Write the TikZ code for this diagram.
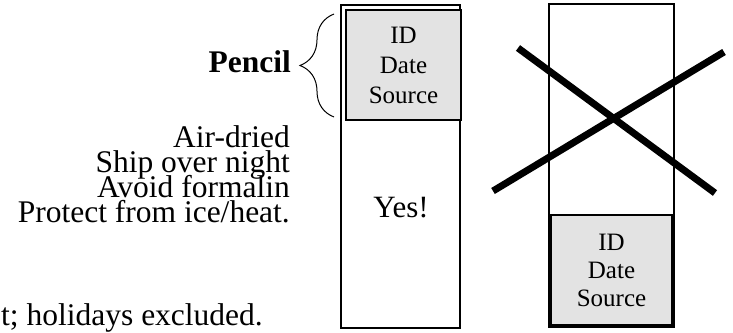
\documentclass[tikz,border=0pt]{standalone}
\usepackage{fontspec}
\setmainfont{Liberation Serif}
\usepackage{tikz}
\usetikzlibrary{decorations.pathreplacing}
\definecolor{labelGray}{RGB}{227, 227, 227}
\tikzset{
  slide/.style={draw, line width=1.4pt},
  slidelabel/.style={draw, line width=1.6pt, fill=labelGray, align=center},
  hint/.style={anchor=base east, font=\fontsize{31.5}{25}\selectfont},
}

\begin{document}
\begin{tikzpicture}[x=1pt, y=-1pt, every node/.style={inner sep=0pt}]
  \useasboundingbox (0,0) rectangle (733,332);

  % good slide: label on top
  \draw[slide] (341,5) rectangle (460,328);
  \node[slidelabel, font=\fontsize{25}{30}\selectfont, minimum width=115pt, minimum height=110pt] (goodlabel) at (403.5,65) {ID\\Date\\Source};
  \node[font=\fontsize{31}{31}\selectfont, anchor=base] (yes) at (401,217) {Yes!};

  % bad slide: label at the bottom
  \draw[slide] (549,4) rectangle (674,327);
  \node[slidelabel, font=\fontsize{25}{28}\selectfont, minimum width=121pt, minimum height=110pt] (badlabel) at (611.5,270) {ID\\Date\\Source};

  \coordinate (X1) at (518,48);
  \coordinate (X2) at (715,193);
  \coordinate (X3) at (493,191);
  \coordinate (X4) at (724,52);
  \draw[line width=7pt] (X1) -- (X2);
  \draw[line width=7pt] (X3) -- (X4);

  % brace and notes
  \coordinate (braceBot) at (334,117);
  \coordinate (braceTop) at (334,14);
  \draw[line width=1pt, decorate, decoration={brace, amplitude=34pt}] (braceBot) -- (braceTop);
  \node[hint, font=\fontsize{31.5}{25}\selectfont\bfseries] (pencil) at (291,72) {Pencil};
  \node[hint] (airdried) at (290,147) {Air-dried};
  \node[hint] (ship) at (290,172) {Ship over night};
  \node[hint] (formalin) at (290,197) {Avoid formalin};
  \node[hint] (protect) at (290,222) {Protect from ice/heat.};
  \node[hint] (holidays) at (263,325) {t; holidays excluded.};

\end{tikzpicture}
\end{document}
